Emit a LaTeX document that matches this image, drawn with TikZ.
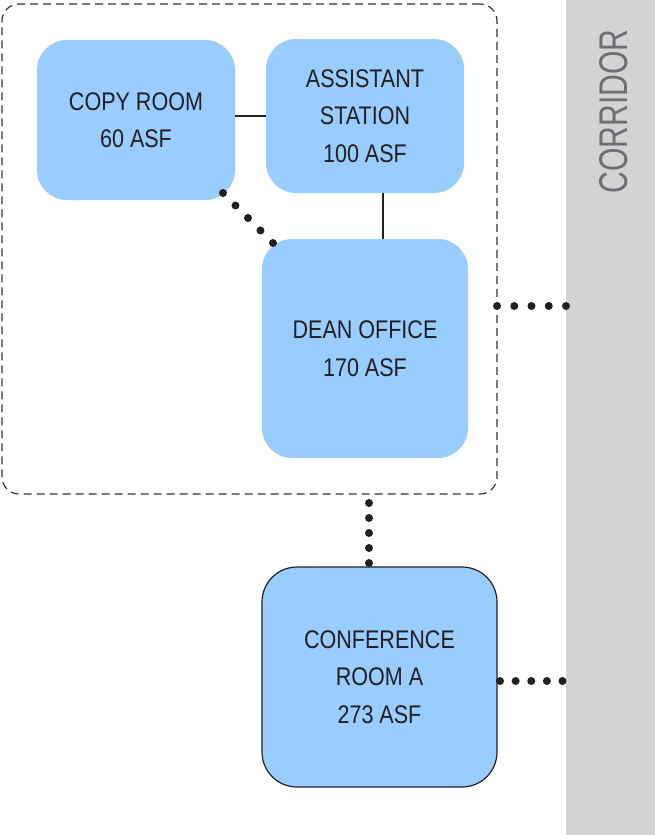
\documentclass[tikz,border=0pt]{standalone}
\usepackage{fontspec}
\setmainfont{Liberation Sans}[FakeStretch=0.845]
\usetikzlibrary{calc,decorations.markings}
\definecolor{roomblue}{HTML}{99CCFF}
\definecolor{inkdark}{HTML}{231F20}
\definecolor{corrgrey}{HTML}{D1D3D4}
\definecolor{corrtext}{HTML}{6D6E71}
\definecolor{dashgrey}{HTML}{333333}
\tikzset{
  room/.style={rectangle, rounded corners=30pt, fill=roomblue, draw=none,
    align=center, inner sep=0pt, outer sep=0pt, text=inkdark,
    font=\fontsize{25.5}{37.5}\selectfont},
  suite/.style={rectangle, rounded corners=17pt, draw=dashgrey, line width=1.2pt,
    dash pattern=on 8pt off 5pt, inner sep=0pt, outer sep=0pt},
  link/.style={draw=inkdark, line width=1.6pt},
  % five evenly spaced round dots from one end to the other
  dotline/.style={draw=none, decoration={markings,
      mark=at position 0 with {\fill[inkdark] (0,0) circle (4pt);},
      mark=at position 0.25 with {\fill[inkdark] (0,0) circle (4pt);},
      mark=at position 0.5 with {\fill[inkdark] (0,0) circle (4pt);},
      mark=at position 0.75 with {\fill[inkdark] (0,0) circle (4pt);},
      mark=at position 0.9999 with {\fill[inkdark] (0,0) circle (4pt);}},
    postaction={decorate}},
}
\begin{document}
\begin{tikzpicture}[x=1pt, y=-1pt]
  \useasboundingbox (0,0) rectangle (655,835);

  % corridor strip along the right edge
  \node[rectangle, fill=corrgrey, minimum width=89pt, minimum height=835pt,
    inner sep=0pt, outer sep=0pt] (corridor) at (610.5,417.5) {};
  \node[rotate=90, inner sep=0pt, text=corrtext] (corrlabel) at (614,111.5)
    {\resizebox{164pt}{28pt}{CORRIDOR}};

  % dashed outline grouping the dean suite
  \node[suite, minimum width=495pt, minimum height=490pt] (group) at (249.5,249) {};

  % rooms
  \node[room, minimum width=198pt, minimum height=160pt] (copy) at (136,120)
    {COPY ROOM\\60 ASF};
  \node[room, minimum width=198pt, minimum height=154pt] (asst) at (365,116)
    {ASSISTANT\\STATION\\100 ASF};
  \node[room, minimum width=206pt, minimum height=219pt] (dean) at (365,348.5)
    {DEAN OFFICE\\170 ASF};
  \node[room, rounded corners=35pt, draw=inkdark, line width=1.2pt,
    minimum width=235pt, minimum height=220pt] (conf) at (379.5,677)
    {CONFERENCE\\ROOM A\\273 ASF};

  % direct adjacencies
  \draw[link] (asst.west -| copy.east) -- (asst.west);
  \draw[link] ($(asst.south)+(18,0)$) -- ($(dean.north)+(18,0)$);

  % convenient (dotted) adjacencies
  \path[dotline] ($(copy.south east)+(-12,-7)$) -- ($(dean.north west)+(11,4)$);
  \path[dotline] ($(dean.east -| group.east)+(0,-42.5)$)
    -- ($(dean.east -| corridor.west)+(0,-42.5)$);
  \path[dotline] ($(conf.north |- group.south)+(-10.5,9)$)
    -- ($(conf.north)+(-10.5,-4)$);
  \path[dotline] ($(conf.east)+(3,4)$) -- ($(conf.east -| corridor.west)+(-3.5,4)$);
\end{tikzpicture}
\end{document}
